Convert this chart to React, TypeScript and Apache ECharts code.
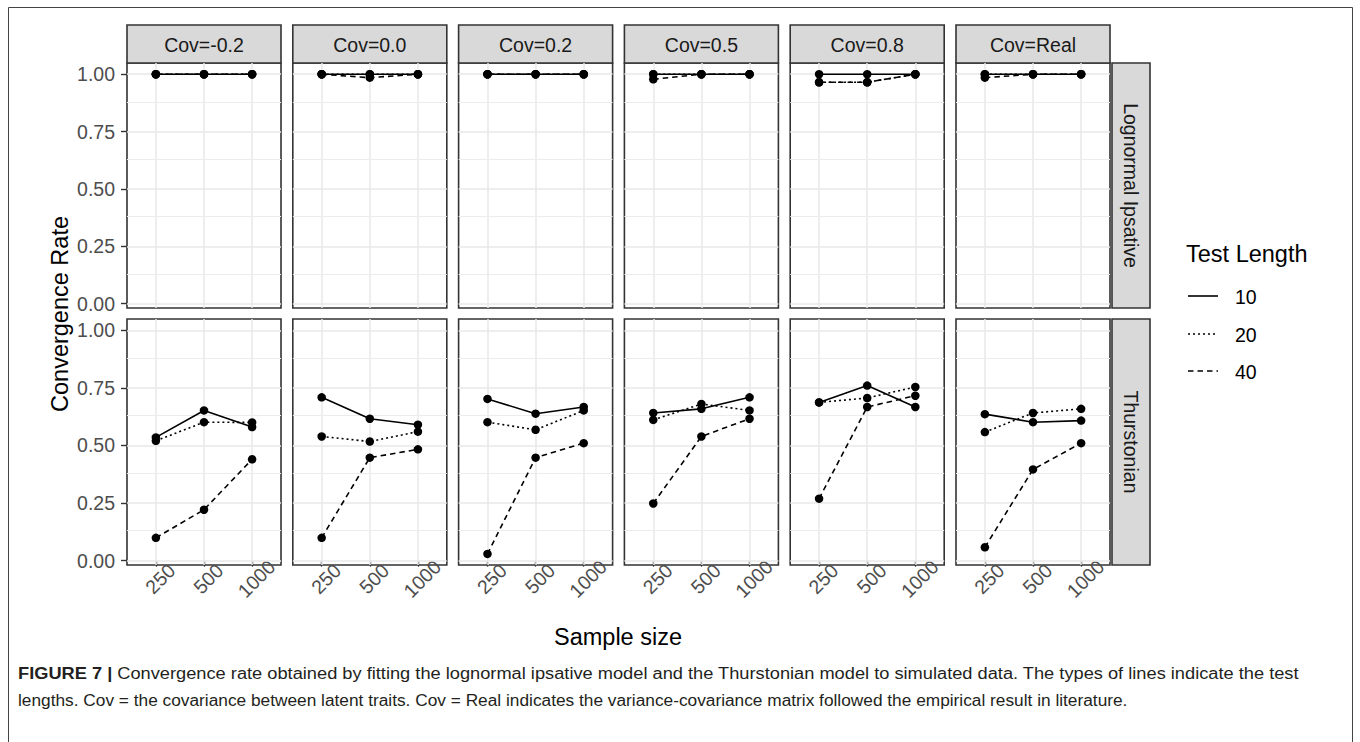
import React, { useEffect, useRef } from 'react';
import * as echarts from 'echarts';

// Facet labels and axis categories
const sampleSizes = ['250', '500', '1000'];
const covariances = ['Cov=-0.2', 'Cov=0.0', 'Cov=0.2', 'Cov=0.5', 'Cov=0.8', 'Cov=Real'];
const models = ['Lognormal Ipsative', 'Thurstonian'];
const testLengths = ['10', '20', '40'];
const yTickValues = [0, 0.25, 0.5, 0.75, 1];
const yMinorValues = [0.125, 0.375, 0.625, 0.875];

// Convergence rate, one row per covariance condition, columns = sample sizes 250/500/1000
const lognormal10 = [
  [1, 1, 1], [1, 1, 1], [1, 1, 1], [1, 1, 1], [1, 1, 1], [1, 1, 1],
];
const lognormal20 = [
  [1, 1, 1], [1, 1, 1], [1, 1, 1], [1, 1, 1], [0.965, 0.965, 1], [1, 1, 1],
];
const lognormal40 = [
  [1, 1, 1], [1, 0.985, 1], [1, 1, 1], [0.978, 1, 1], [0.965, 0.965, 1], [0.985, 1, 1],
];
const thurstonian10 = [
  [0.535, 0.652, 0.58], [0.709, 0.616, 0.59], [0.702, 0.638, 0.667],
  [0.641, 0.659, 0.709], [0.687, 0.76, 0.667], [0.636, 0.601, 0.608],
];
const thurstonian20 = [
  [0.52, 0.601, 0.6], [0.539, 0.517, 0.56], [0.601, 0.568, 0.652],
  [0.611, 0.68, 0.652], [0.687, 0.706, 0.754], [0.558, 0.641, 0.659],
];
const thurstonian40 = [
  [0.099, 0.221, 0.44], [0.099, 0.447, 0.483], [0.029, 0.447, 0.51],
  [0.248, 0.539, 0.616], [0.269, 0.667, 0.716], [0.058, 0.396, 0.51],
];

const modelData = [
  [lognormal10, lognormal20, lognormal40],
  [thurstonian10, thurstonian20, thurstonian40],
];

const FONT = '"Liberation Sans", Arial, sans-serif';
const INK = '#000';
const lineDashes: any[] = ['solid', [2, 3], [5.5, 4]];

// Facet layout (pixels)
const panelLeft0 = 127;
const panelPitch = 165.8;
const panelWidth = 154;
const rowTops = [63, 319];
const rowHeights = [245, 246];
const stripTop = 25;
const stripHeight = 38;
const rowStripLeft = 1112;
const rowStripWidth = 38;
const yMin = -0.019;
const yMax = 1.049;

const captionLine1 =
  '{b|FIGURE 7 |} Convergence rate obtained by fitting the lognormal ipsative model and the Thurstonian model to simulated data. The types of lines indicate the test';
const captionLine2 =
  'lengths. Cov = the covariance between latent traits. Cov = Real indicates the variance-covariance matrix followed the empirical result in literature.';

function buildOption() {
  const grid: any[] = [];
  const xAxis: any[] = [];
  const yAxis: any[] = [];
  const series: any[] = [];
  const graphic: any[] = [];

  models.forEach((model, r) => {
    covariances.forEach((cov, c) => {
      const idx = r * covariances.length + c;
      const left = panelLeft0 + c * panelPitch;
      grid.push({
        left,
        top: rowTops[r],
        width: panelWidth,
        height: rowHeights[r],
        show: true,
        backgroundColor: '#fff',
        borderColor: '#333',
        borderWidth: 1.6,
        z: 0,
      });
      xAxis.push({
        type: 'value',
        gridIndex: idx,
        min: 0.4,
        max: 3.6,
        axisLine: { show: false },
        splitLine: { show: false },
        axisTick: {
          show: r === 1,
          customValues: [1, 2, 3],
          length: 6,
          lineStyle: { color: '#333', width: 1.4 },
        },
        axisLabel: {
          show: r === 1,
          customValues: [1, 2, 3],
          formatter: (v: number) => sampleSizes[Math.round(v) - 1] ?? '',
          rotate: 45,
          align: 'center',
          verticalAlign: 'middle',
          margin: 18,
          padding: [10, 0, 0, 12],
          fontSize: 19.5,
          fontFamily: FONT,
          color: '#4d4d4d',
        },
      });
      yAxis.push({
        type: 'value',
        gridIndex: idx,
        min: yMin,
        max: yMax,
        axisLine: { show: false },
        splitLine: { show: false },
        axisTick: {
          show: c === 0,
          customValues: yTickValues,
          length: 6,
          lineStyle: { color: '#333', width: 1.4 },
        },
        axisLabel: {
          show: c === 0,
          customValues: yTickValues,
          formatter: (v: number) => v.toFixed(2),
          margin: 12,
          fontSize: 19.5,
          fontFamily: FONT,
          color: '#4d4d4d',
        },
      });

      // panel grid lines: major and minor
      series.push({
        type: 'line',
        xAxisIndex: idx,
        yAxisIndex: idx,
        data: [],
        silent: true,
        markLine: {
          silent: true,
          z: 1,
          symbol: 'none',
          label: { show: false },
          lineStyle: { color: '#e8e8e8', width: 1.5, type: 'solid' },
          data: [
            ...yTickValues.map((v) => ({ yAxis: v })),
            ...sampleSizes.map((_, i) => ({ xAxis: i + 1 })),
          ],
        },
      });
      series.push({
        type: 'line',
        xAxisIndex: idx,
        yAxisIndex: idx,
        data: [],
        silent: true,
        markLine: {
          silent: true,
          z: 1,
          symbol: 'none',
          label: { show: false },
          lineStyle: { color: '#ececec', width: 1.1, type: 'solid' },
          data: yMinorValues.map((v) => ({ yAxis: v })),
        },
      });

      testLengths.forEach((len, k) => {
        const vals = modelData[r][k][c];
        series.push({
          name: len,
          type: 'line',
          xAxisIndex: idx,
          yAxisIndex: idx,
          z: 3 + k,
          data: vals.map((v, i) => [i + 1, v]),
          symbol: 'circle',
          symbolSize: 8.5,
          itemStyle: { color: INK },
          lineStyle: { color: INK, width: 1.6, type: lineDashes[k] },
          silent: true,
        });
      });

      // column strip
      if (r === 0) {
        graphic.push({
          type: 'rect',
          shape: { x: left, y: stripTop, width: panelWidth, height: stripHeight },
          style: { fill: '#d9d9d9', stroke: '#333', lineWidth: 1.6 },
        });
        graphic.push({
          type: 'text',
          x: left + panelWidth / 2,
          y: stripTop + stripHeight / 2 + 1,
          style: {
            text: cov,
            fill: '#1a1a1a',
            font: `19.5px ${FONT}`,
            textAlign: 'center',
            textVerticalAlign: 'middle',
          },
        });
      }
    });

    // row strip
    graphic.push({
      type: 'rect',
      shape: { x: rowStripLeft, y: rowTops[r], width: rowStripWidth, height: rowHeights[r] },
      style: { fill: '#d9d9d9', stroke: '#333', lineWidth: 1.6 },
    });
    graphic.push({
      type: 'text',
      x: rowStripLeft + rowStripWidth / 2,
      y: rowTops[r] + rowHeights[r] / 2,
      rotation: -Math.PI / 2,
      style: {
        text: model,
        fill: '#1a1a1a',
        font: `19.5px ${FONT}`,
        textAlign: 'center',
        textVerticalAlign: 'middle',
      },
    });
  });

  // axis titles
  graphic.push({
    type: 'text',
    x: 60,
    y: 314,
    rotation: Math.PI / 2,
    style: {
      text: 'Convergence Rate',
      fill: INK,
      font: `23.5px ${FONT}`,
      textAlign: 'center',
      textVerticalAlign: 'middle',
    },
  });
  graphic.push({
    type: 'text',
    x: 618,
    y: 637,
    style: {
      text: 'Sample size',
      fill: INK,
      font: `23.5px ${FONT}`,
      textAlign: 'center',
      textVerticalAlign: 'middle',
    },
  });

  // legend
  graphic.push({
    type: 'text',
    x: 1186,
    y: 254,
    style: {
      text: 'Test Length',
      fill: INK,
      font: `23.5px ${FONT}`,
      textAlign: 'left',
      textVerticalAlign: 'middle',
    },
  });
  const legendYs = [296, 334, 371];
  testLengths.forEach((len, k) => {
    graphic.push({
      type: 'line',
      shape: { x1: 1188, y1: legendYs[k], x2: 1218, y2: legendYs[k] },
      style: {
        stroke: INK,
        lineWidth: 1.6,
        lineDash: k === 0 ? null : lineDashes[k],
      },
    });
    graphic.push({
      type: 'text',
      x: 1235,
      y: legendYs[k] + 1,
      style: {
        text: len,
        fill: INK,
        font: `19.5px ${FONT}`,
        textAlign: 'left',
        textVerticalAlign: 'middle',
      },
    });
  });

  // figure frame and caption (first line spread to the full measure)
  graphic.push({
    type: 'rect',
    shape: { x: 8.5, y: 7.5, width: 1344, height: 760 },
    style: { fill: null, stroke: '#444', lineWidth: 1 },
    z: 100,
  });
  const captionRich = {
    b: { fontWeight: 'bold', fontSize: 17.3, fontFamily: FONT, fill: '#231f20' },
  };
  graphic.push({
    type: 'text',
    x: 18,
    y: 673,
    scaleX: 1.055,
    style: {
      text: captionLine1,
      fill: '#231f20',
      font: `17.3px ${FONT}`,
      textAlign: 'left',
      textVerticalAlign: 'middle',
      rich: captionRich,
    },
  });
  graphic.push({
    type: 'text',
    x: 18,
    y: 700,
    style: {
      text: captionLine2,
      fill: '#231f20',
      font: `17.3px ${FONT}`,
      textAlign: 'left',
      textVerticalAlign: 'middle',
    },
  });

  return {
    animation: false,
    backgroundColor: '#fff',
    grid,
    xAxis,
    yAxis,
    series,
    graphic,
  };
}

export default function App() {
  const ref = useRef<HTMLDivElement>(null);
  useEffect(() => {
    if (!ref.current) return;
    const chart = echarts.init(ref.current, null, { renderer: 'svg' });
    chart.setOption(buildOption() as any);
    return () => chart.dispose();
  }, []);
  return (
    <div
      ref={ref}
      style={{ position: 'fixed', left: 0, top: 0, width: 1360, height: 742, background: '#fff' }}
    />
  );
}
